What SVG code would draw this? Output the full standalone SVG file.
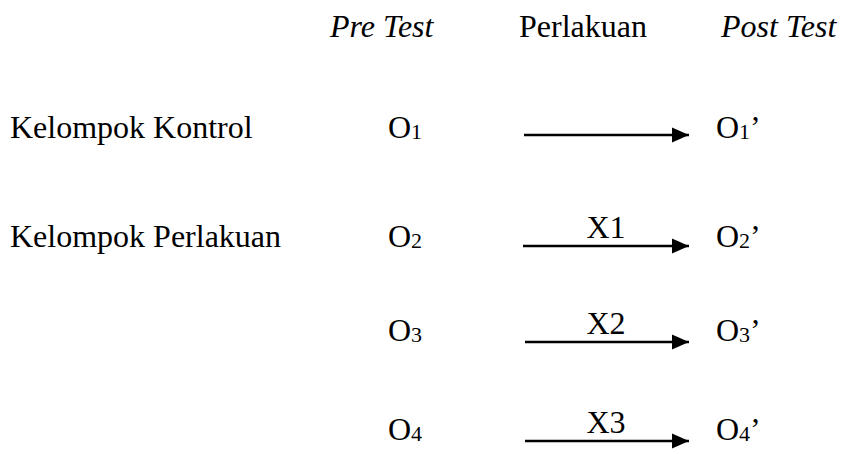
<svg xmlns="http://www.w3.org/2000/svg" width="850" height="454" viewBox="0 0 850 454">
  <style>
    text { font-family: "Liberation Serif", "Times New Roman", serif; font-size: 32px; fill: #000; }
    .it { font-style: italic; }
    .sub { font-size: 22px; }
    .mid { text-anchor: middle; }
    .arrow { stroke: #000; stroke-width: 2.5; fill: none; marker-end: url(#head); }
  </style>
  <defs>
    <marker id="head" markerUnits="userSpaceOnUse" markerWidth="18" markerHeight="16" refX="17" refY="8" orient="auto">
      <path d="M0,0.5 L17,8 L0,15.5 Z" fill="#000"/>
    </marker>
  </defs>

  <!-- column headings -->
  <g id="headings">
    <text class="it" x="330" y="37">Pre Test</text>
    <text x="519" y="37">Perlakuan</text>
    <text class="it" x="721" y="37">Post Test</text>
  </g>

  <!-- group labels -->
  <g id="group-kontrol">
    <text x="10" y="138">Kelompok Kontrol</text>
  </g>
  <g id="group-perlakuan">
    <text x="10" y="247">Kelompok Perlakuan</text>
  </g>

  <!-- pre-test observations -->
  <g id="pre-o1"><text x="388" y="138">O<tspan class="sub" dy="1">1</tspan></text></g>
  <g id="pre-o2"><text x="388" y="247">O<tspan class="sub" dy="1">2</tspan></text></g>
  <g id="pre-o3"><text x="388" y="341">O<tspan class="sub" dy="1">3</tspan></text></g>
  <g id="pre-o4"><text x="388" y="440">O<tspan class="sub" dy="1">4</tspan></text></g>

  <!-- post-test observations -->
  <g id="post-o1"><text x="716" y="138">O<tspan class="sub" dy="1">1</tspan><tspan dy="-1">’</tspan></text></g>
  <g id="post-o2"><text x="716" y="247">O<tspan class="sub" dy="1">2</tspan><tspan dy="-1">’</tspan></text></g>
  <g id="post-o3"><text x="716" y="341">O<tspan class="sub" dy="1">3</tspan><tspan dy="-1">’</tspan></text></g>
  <g id="post-o4"><text x="716" y="440">O<tspan class="sub" dy="1">4</tspan><tspan dy="-1">’</tspan></text></g>

  <!-- connectors with treatment labels -->
  <g id="connectors">
    <line class="arrow" x1="524" y1="135" x2="689" y2="135"/>
    <line class="arrow" x1="523" y1="246" x2="689" y2="246"/>
    <text class="mid" x="606" y="238">X1</text>
    <line class="arrow" x1="525" y1="342" x2="689" y2="342"/>
    <text class="mid" x="606" y="334">X2</text>
    <line class="arrow" x1="525" y1="441" x2="689" y2="441"/>
    <text class="mid" x="606" y="433">X3</text>
  </g>
</svg>
